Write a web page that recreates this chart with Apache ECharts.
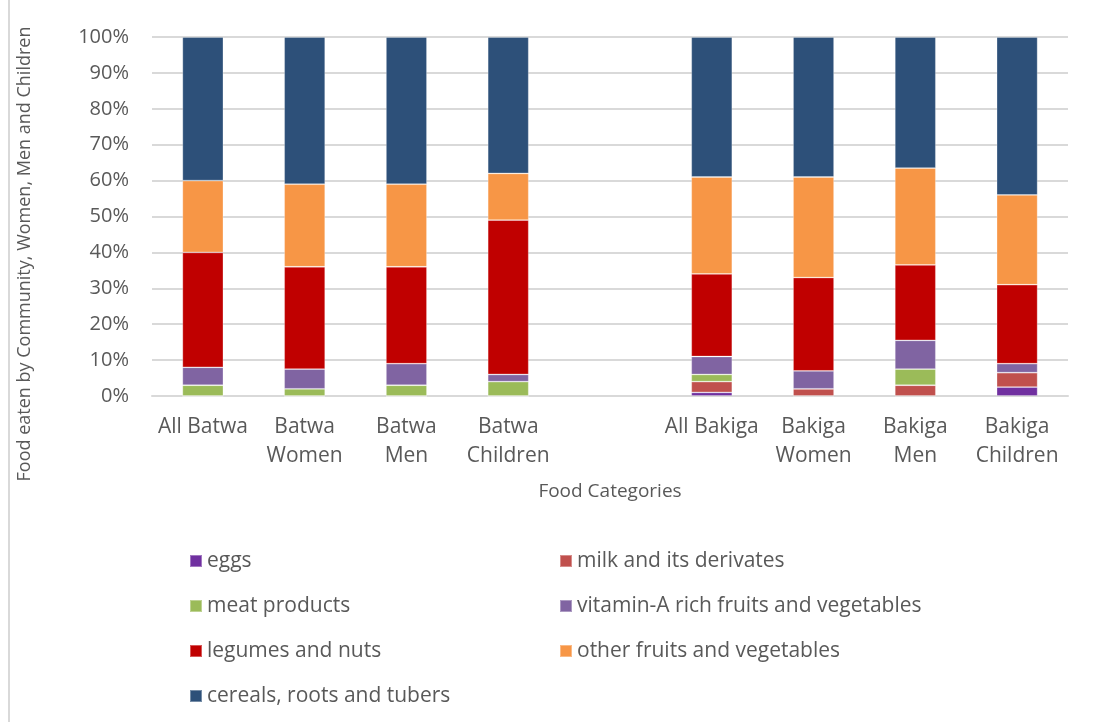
<!DOCTYPE html>
<html>
<head>
<meta charset="utf-8">
<script src="https://cdn.jsdelivr.net/npm/echarts@6/dist/echarts.min.js"></script>
<style>
  html, body { margin: 0; padding: 0; background: #ffffff; }
  #chart { width: 1094px; height: 722px; }
</style>
</head>
<body>
<div id="chart"></div>
<script>
// Groups along the x axis; the blank slot separates Batwa from Bakiga
const categories = ['All Batwa', 'Batwa\nWomen', 'Batwa\nMen', 'Batwa\nChildren', '',
                    'All Bakiga', 'Bakiga\nWomen', 'Bakiga\nMen', 'Bakiga\nChildren'];

// Share of each food category (%), stacked bottom to top
const eggs       = [0, 0, 0, 0, null, 1, 0, 0, 2.5];
const milk       = [0, 0, 0, 0, null, 3, 2, 3, 4];
const meat       = [3, 2, 3, 4, null, 2, 0, 4.5, 0];
const vitaminA   = [5, 5.5, 6, 2, null, 5, 5, 8, 2.5];
const legumes    = [32, 28.5, 27, 43, null, 23, 26, 21, 22];
const otherFruit = [20, 23, 23, 13, null, 27, 28, 27, 25];
const cereals    = [40, 41, 41, 38, null, 39, 39, 36.5, 44];

const seriesNames = ['eggs', 'milk and its derivates', 'meat products',
  'vitamin-A rich fruits and vegetables', 'legumes and nuts',
  'other fruits and vegetables', 'cereals, roots and tubers'];
const seriesData = [eggs, milk, meat, vitaminA, legumes, otherFruit, cereals];
const colors = ['#7030A0', '#C0504D', '#9BBB59', '#8064A2', '#C00000', '#F79646', '#2D5079'];

const yTicks = [0, 10, 20, 30, 40, 50, 60, 70, 80, 90, 100];

const FONT = '"Open Sans", sans-serif';
const TEXT = '#595959';

const chart = echarts.init(document.getElementById('chart'), null, { renderer: 'canvas' });

const legendText = { color: TEXT, fontSize: 21, fontFamily: FONT, lineHeight: 22 };

chart.setOption({
  animation: false,
  backgroundColor: '#ffffff',
  color: colors,
  grid: { left: 152, right: 26, top: 37, bottom: 326, containLabel: false },
  xAxis: {
    type: 'category',
    data: categories,
    axisLine: { show: true, lineStyle: { color: '#d9d9d9', width: 2 } },
    axisTick: { show: false },
    axisLabel: {
      color: TEXT, fontSize: 21, fontFamily: FONT, lineHeight: 29,
      margin: 17, interval: 0
    },
    name: 'Food Categories',
    nameLocation: 'middle',
    nameGap: 86,
    nameTextStyle: { color: TEXT, fontSize: 19, fontFamily: FONT }
  },
  yAxis: {
    type: 'value',
    min: yTicks[0],
    max: yTicks[yTicks.length - 1],
    interval: yTicks[1] - yTicks[0],
    axisLine: { show: false },
    axisTick: { show: false },
    splitLine: { lineStyle: { color: '#d9d9d9', width: 2 } },
    axisLabel: {
      color: TEXT, fontSize: 20, fontFamily: FONT, margin: 23,
      formatter: '{value}%'
    }
  },
  legend: [
    {
      data: [seriesNames[0], seriesNames[2], seriesNames[4], seriesNames[6]],
      orient: 'vertical', left: 189, top: 550, padding: 0,
      itemWidth: 12, itemHeight: 12, itemGap: 23,
      icon: 'rect', textStyle: legendText
    },
    {
      data: [seriesNames[1], seriesNames[3], seriesNames[5]],
      orient: 'vertical', left: 559, top: 550, padding: 0,
      itemWidth: 12, itemHeight: 12, itemGap: 23,
      icon: 'rect', textStyle: legendText
    }
  ],
  graphic: [
    {
      type: 'text',
      x: 25, y: 254,
      rotation: Math.PI / 2,
      style: {
        text: 'Food eaten by Community, Women, Men and Children',
        fill: TEXT, fontSize: 18, fontFamily: FONT,
        align: 'center', verticalAlign: 'middle'
      }
    },
    {
      type: 'line',
      shape: { x1: 9, y1: 0, x2: 9, y2: 722 },
      style: { stroke: '#d9d9d9', lineWidth: 2 }
    }
  ],
  series: seriesNames.map((name, i) => ({
    name: name,
    type: 'bar',
    stack: 'food',
    barWidth: 41,
    data: seriesData[i],
    itemStyle: { color: colors[i], borderColor: 'rgba(255,255,255,0.35)', borderWidth: 0.8 }
  }))
});
</script>
</body>
</html>
